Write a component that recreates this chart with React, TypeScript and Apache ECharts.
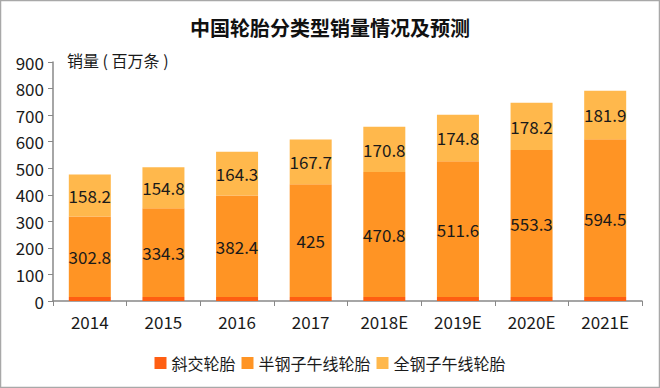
import React, { useEffect, useRef } from "react";
import * as echarts from "echarts";

const categories = ["2014", "2015", "2016", "2017", "2018E", "2019E", "2020E", "2021E"];
const biasTires = [15, 15, 15, 15, 15, 15, 15, 15];
const semiSteel = [302.8, 334.3, 382.4, 425, 470.8, 511.6, 553.3, 594.5];
const allSteel = [158.2, 154.8, 164.3, 167.7, 170.8, 174.8, 178.2, 181.9];
const yTicks = [0, 100, 200, 300, 400, 500, 600, 700, 800, 900];

const FONT = "'Microsoft YaHei','Noto Sans CJK SC',sans-serif";

export default function App() {
  const ref = useRef<HTMLDivElement>(null);
  useEffect(() => {
    const chart = echarts.init(ref.current!, null, { renderer: "svg" });
    const label = {
      show: true,
      position: "inside" as const,
      color: "#1a1a1a",
      fontSize: 17,
      fontFamily: FONT,
    };
    chart.setOption({
      animation: false,
      backgroundColor: "#ffffff",
      title: {
        text: "中国轮胎分类型销量情况及预测",
        left: "center",
        top: 12,
        textStyle: { fontSize: 20, fontWeight: "bold", color: "#111", fontFamily: FONT },
      },
      graphic: [
        {
          type: "rect",
          shape: { x: 0.5, y: 0.5, width: 659, height: 387 },
          style: { fill: "none", stroke: "#a8a8a8", lineWidth: 1.5 },
          silent: true,
        },
        {
          type: "text",
          left: 67,
          top: 52,
          style: { text: "销量 ( 百万条 )", fontSize: 16, fill: "#1a1a1a", fontFamily: FONT },
        },
      ],
      legend: {
        top: 350,
        left: "center",
        itemWidth: 12,
        itemHeight: 12,
        itemGap: 6,
        icon: "rect",
        textStyle: { fontSize: 16, color: "#1a1a1a", fontFamily: FONT },
        data: ["斜交轮胎", "半钢子午线轮胎", "全钢子午线轮胎"],
      },
      grid: { left: 53, right: 18, top: 62, bottom: 87, containLabel: false },
      xAxis: {
        type: "category",
        data: categories,
        axisLine: { lineStyle: { color: "#888", width: 1.5 } },
        axisTick: { show: true, alignWithLabel: false, length: 5, lineStyle: { color: "#888" } },
        axisLabel: { fontSize: 17, color: "#1a1a1a", margin: 12, fontFamily: FONT },
      },
      yAxis: {
        type: "value",
        min: yTicks[0],
        max: yTicks[yTicks.length - 1],
        interval: 100,
        axisLine: { show: true, lineStyle: { color: "#888", width: 1.5 } },
        axisTick: { show: true, length: 5, lineStyle: { color: "#888" } },
        axisLabel: { fontSize: 17, color: "#1a1a1a", margin: 9, fontFamily: FONT },
        splitLine: { show: false },
      },
      series: [
        {
          name: "斜交轮胎",
          type: "bar",
          stack: "total",
          barWidth: 42,
          data: biasTires,
          itemStyle: { color: "#FF5E12" },
        },
        {
          name: "半钢子午线轮胎",
          type: "bar",
          stack: "total",
          barWidth: 42,
          data: semiSteel,
          itemStyle: { color: "#FF9424" },
          label,
        },
        {
          name: "全钢子午线轮胎",
          type: "bar",
          stack: "total",
          barWidth: 42,
          data: allSteel,
          itemStyle: { color: "#FFB84C" },
          label,
        },
      ],
    });
    return () => chart.dispose();
  }, []);
  return (
    <div
      ref={ref}
      style={{ width: 660, height: 388, position: "absolute", left: 0, top: 0 }}
    />
  );
}
